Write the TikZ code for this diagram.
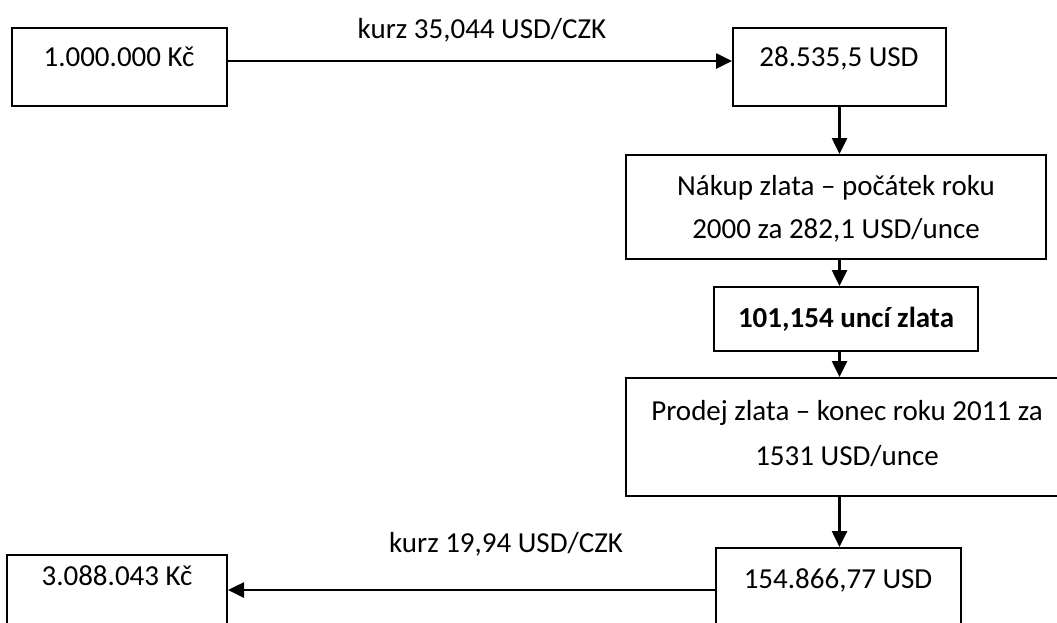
\documentclass[tikz,border=0pt]{standalone}
\usepackage{fontspec}
\setmainfont{Carlito}
\usetikzlibrary{arrows.meta}
\tikzset{
  box/.style={draw=black, line width=2pt, fill=white, inner sep=0pt},
  txt/.style={anchor=base, inner sep=0pt, font=\fontsize{29}{35}\selectfont},
  flow/.style={draw=black, line width=2.6pt, -{Triangle[length=16pt,width=15pt]}}
}
\begin{document}
\begin{tikzpicture}[x=1pt, y=-1pt]
  \useasboundingbox (0,0) rectangle (1057,622);
  \clip (0,0) rectangle (1057,622);
  \fill[white] (0,0) rectangle (1057,622);

  % boxes
  \node[box, minimum width=215pt, minimum height=78pt]  (b1) at (119.5,67) {};
  \node[box, minimum width=213pt, minimum height=78pt]  (b2) at (839.5,67) {};
  \node[box, minimum width=420pt, minimum height=104pt] (b3) at (836,207) {};
  \node[box, minimum width=264pt, minimum height=64pt]  (b4) at (846,319) {};
  \node[box, minimum width=442pt, minimum height=118pt] (b5) at (847,437) {};
  \node[box, minimum width=245pt, minimum height=100pt] (b6) at (838.5,598) {};
  \node[box, minimum width=220pt, minimum height=100pt] (b7) at (117,605) {};

  % texts
  \node[txt] (t1)  at (119,66)  {1.000.000 Kč};
  \node[txt] (t2)  at (839,66)  {28.535,5 USD};
  \node[txt] (t3a) at (836,195) {Nákup zlata – počátek roku};
  \node[txt] (t3b) at (836,238) {2000 za 282,1 USD/unce};
  \node[txt] (t4)  at (846,327) {\bfseries 101,154 uncí zlata};
  \node[txt] (t5a) at (847,420) {Prodej zlata – konec roku 2011 za};
  \node[txt] (t5b) at (847,465) {1531 USD/unce};
  \node[txt] (t6)  at (838,588) {154.866,77 USD};
  \node[txt] (t7)  at (117,585) {3.088.043 Kč};
  \node[txt] (l1)  at (482,38)  {kurz 35,044 USD/CZK};
  \node[txt] (l2)  at (506,552) {kurz 19,94 USD/CZK};

  % connectors
  \coordinate (c1) at (0,61);
  \coordinate (c6) at (0,590);
  \draw[flow] (b1.east |- c1) -- (b2.west |- c1);
  \draw[flow] (b2.south) -- (b2.south |- b3.north);
  \draw[flow] (b2.south |- b3.south) -- (b2.south |- b4.north);
  \draw[flow] (b2.south |- b4.south) -- (b2.south |- b5.north);
  \draw[flow] (b2.south |- b5.south) -- (b2.south |- b6.north);
  \draw[flow] (b6.west |- c6) -- (b7.east |- c6);
\end{tikzpicture}
\end{document}
